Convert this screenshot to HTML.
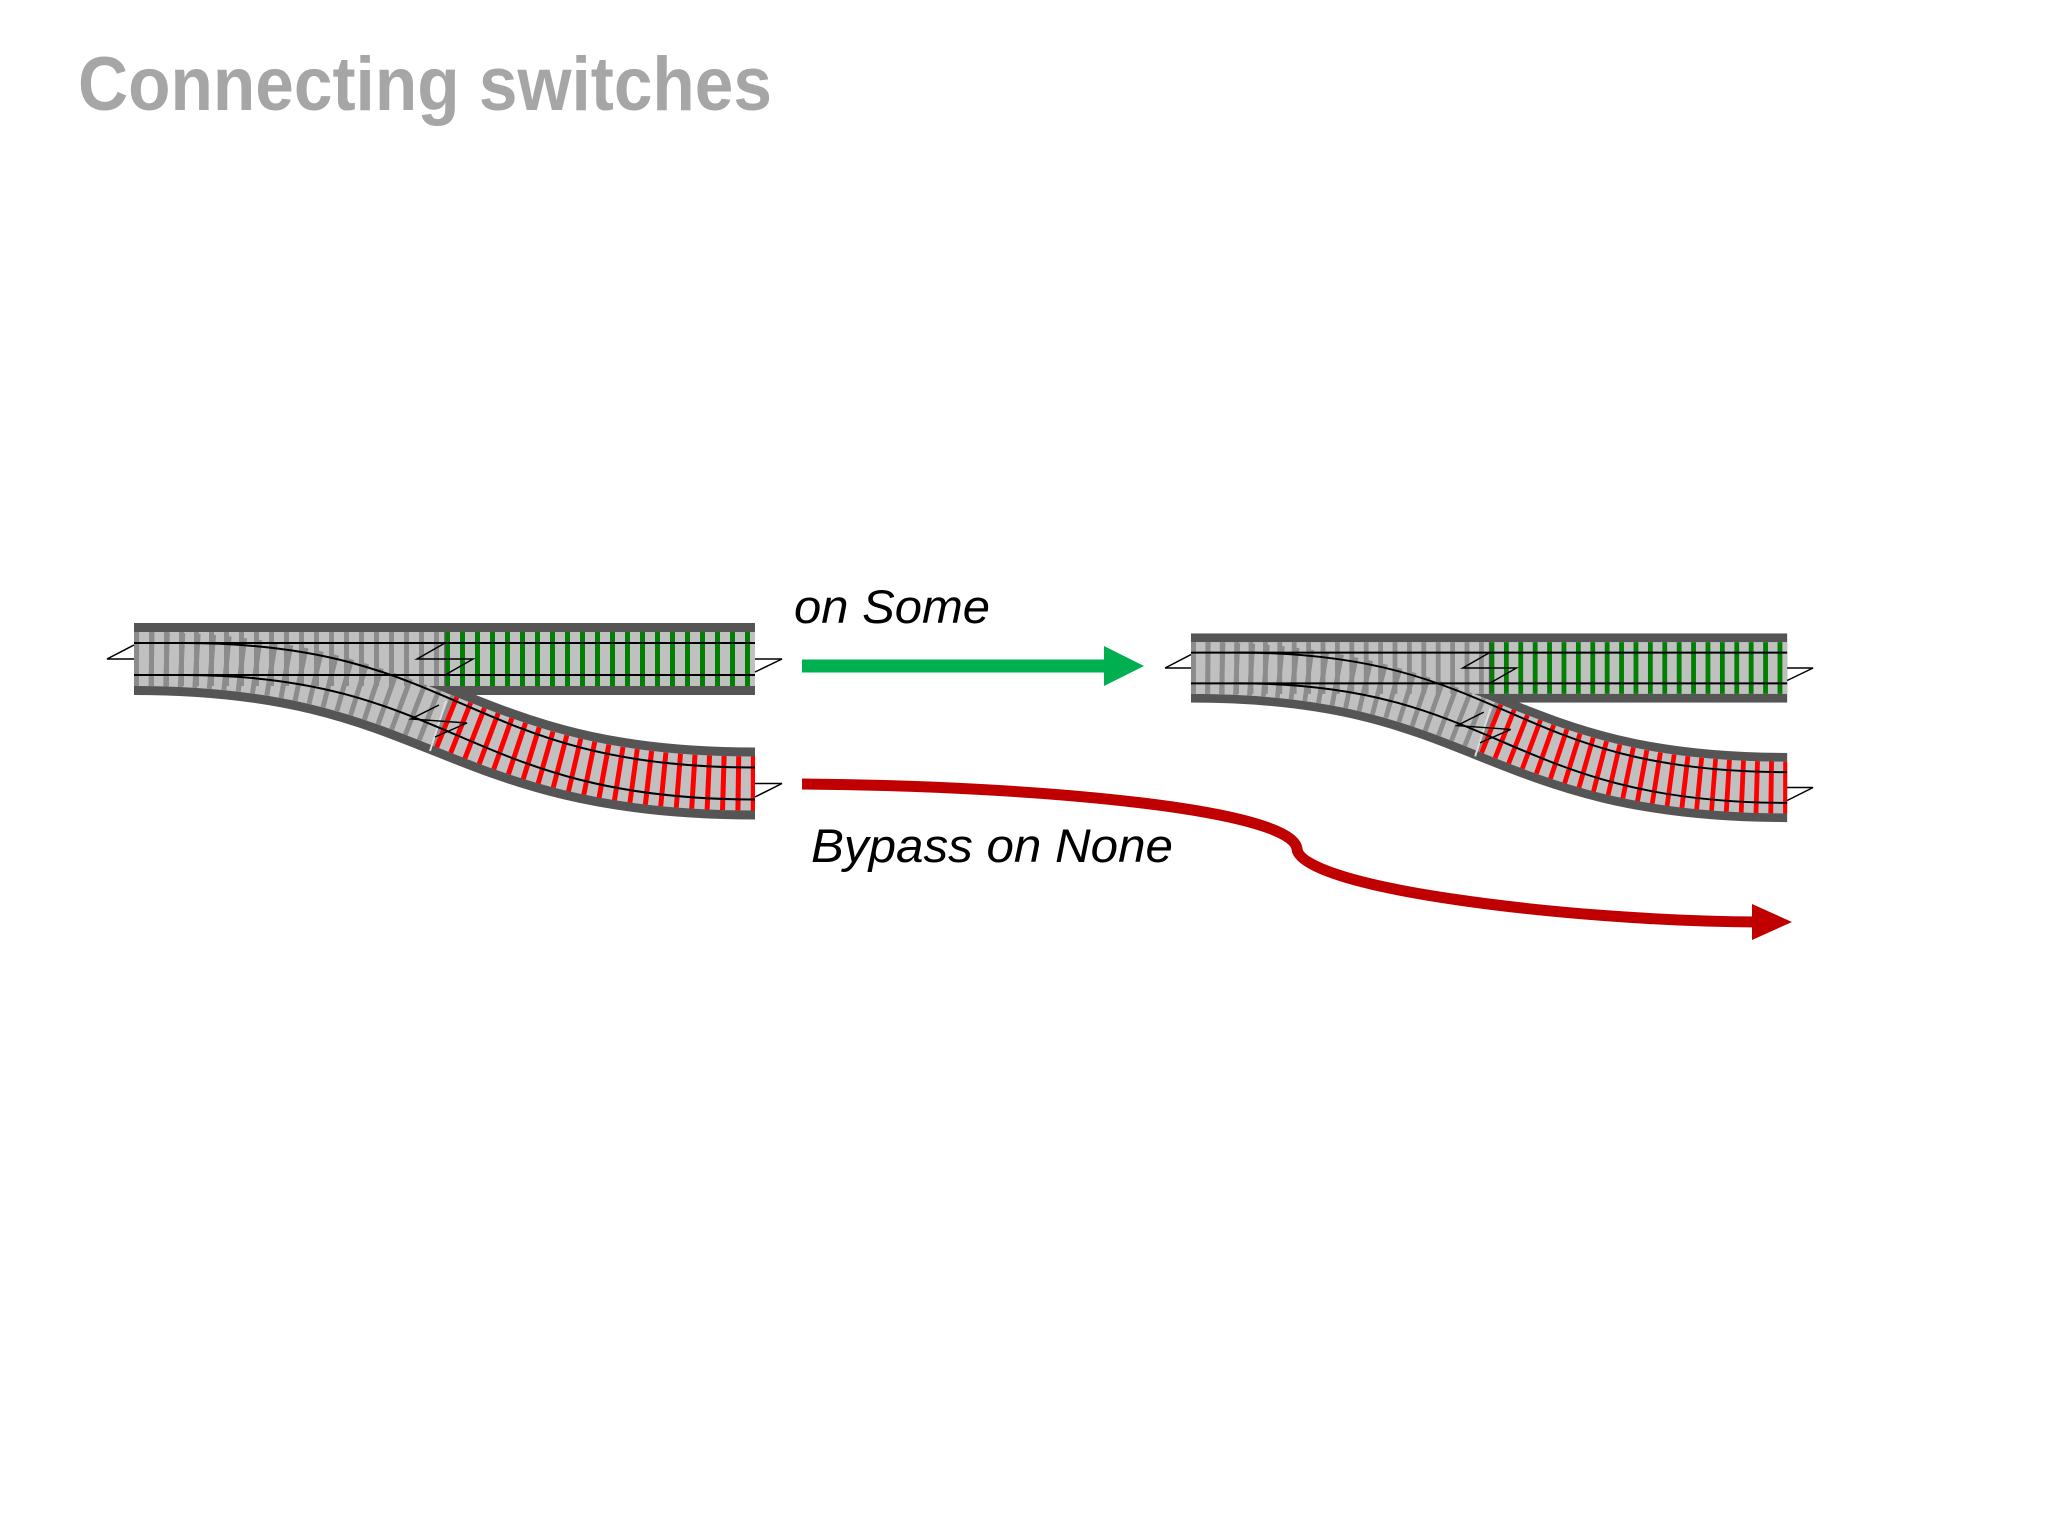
<!DOCTYPE html>
<html><head><meta charset="utf-8"><style>
html,body{margin:0;padding:0;background:#fff;}
svg{display:block;}
</style></head><body>
<svg width="2048" height="1536" viewBox="0 0 2048 1536" xmlns="http://www.w3.org/2000/svg">
<defs>
<g id="sw">
  <!-- dark borders -->
  <path d="M0,0 C310.5,0 310.5,124.5 621,124.5" fill="none" stroke="#555" stroke-width="72"/>
  <rect x="0" y="-36" width="621" height="72" fill="#555"/>
  <!-- light -->
  <path d="M0,0 C310.5,0 310.5,124.5 621,124.5" fill="none" stroke="#c0c0c0" stroke-width="54"/>
  <rect x="0" y="-27" width="621" height="54" fill="#c0c0c0"/>
  <!-- diverging ties -->
  <path d="M0,0 C155.25,0 232.9,31.1 310.5,62.25" fill="none" stroke="#8c8c8c" stroke-width="54" stroke-dasharray="5 10"/>
  <path d="M310.5,62.25 C388.1,93.4 465.75,124.5 621,124.5" fill="none" stroke="#ff0000" stroke-width="54" stroke-dasharray="5 10"/>
  <!-- straight ties -->
  <line x1="0" y1="0" x2="311" y2="0" stroke="#8c8c8c" stroke-width="54" stroke-dasharray="5 10"/>
  <line x1="311" y1="0" x2="621" y2="0" stroke="#008000" stroke-width="54" stroke-dasharray="5 10"/>
  <line x1="311" y1="-27" x2="311" y2="27" stroke="#555" stroke-width="1.5"/>
  <line x1="312" y1="42" x2="296" y2="92" stroke="#ddd" stroke-width="2"/>
  <!-- rails -->
  <g fill="none" stroke="#000" stroke-width="2">
    <line x1="0" y1="-16" x2="621" y2="-16"/>
    <line x1="0" y1="16" x2="621" y2="16"/>
    <path d="M50,-16 C330,-16 330,108.5 621,108.5"/>
    <path d="M50,16 C320,16 330,140.5 621,140.5"/>
    <!-- markers -->
    <polyline points="0,-14 -27,0 0,0" stroke-width="1.5"/>
    <polyline points="621,0 648,0 621,13" stroke-width="1.5"/>
    <polyline points="621,124.5 648,124.5 621,138" stroke-width="1.5"/>
    <polyline points="311,-16 283,0 339,0 311,16" stroke-width="1.5"/>
    <polyline points="305,46 277,60 333,64 301,78" stroke-width="1.5"/>
  </g>
</g>
</defs>

<text x="78" y="110" font-family="Liberation Sans, sans-serif" font-weight="bold" font-size="76" fill="#a6a6a6" textLength="694" lengthAdjust="spacingAndGlyphs">Connecting switches</text>

<use href="#sw" transform="translate(134,659)"/>
<use href="#sw" transform="translate(1191,668) scale(0.96)"/>

<!-- green arrow -->
<line x1="802" y1="666" x2="1108" y2="666" stroke="#00b050" stroke-width="13"/>
<polygon points="1104,646 1144,666 1104,686" fill="#00b050"/>
<text x="794" y="623" font-family="Liberation Sans, sans-serif" font-style="italic" font-size="47" fill="#000" textLength="196" lengthAdjust="spacingAndGlyphs">on Some</text>

<!-- red curved arrow -->
<path d="M802,784 C1045,786 1293,810 1297,849 C1301,888 1567,921 1757,922" fill="none" stroke="#c00000" stroke-width="11"/>
<polygon points="1752,904 1792,922 1752,940" fill="#c00000"/>
<text x="811" y="862" font-family="Liberation Sans, sans-serif" font-style="italic" font-size="47" fill="#000" textLength="362" lengthAdjust="spacingAndGlyphs">Bypass on None</text>
</svg>
</body></html>
